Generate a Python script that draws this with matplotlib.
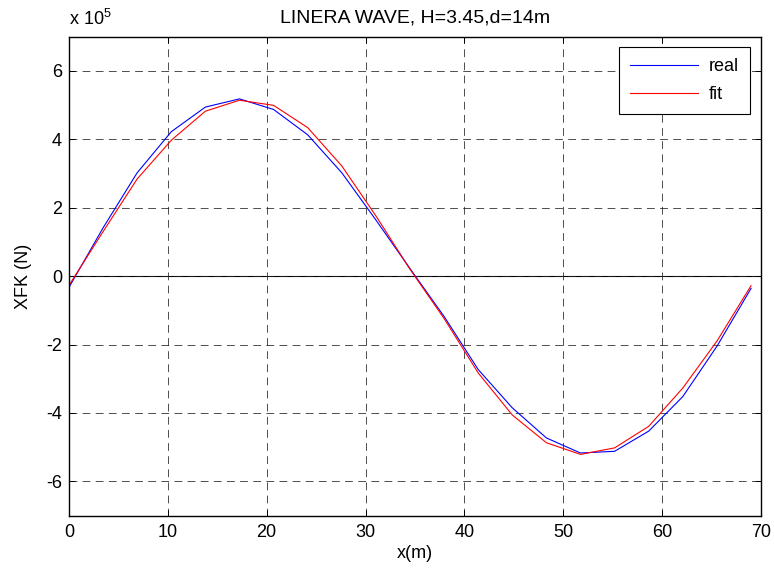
import matplotlib

matplotlib.use("Agg")
import matplotlib.pyplot as plt
import numpy as np

plt.rcParams["font.family"] = ["Liberation Sans", "DejaVu Sans"]
plt.rcParams["mathtext.fontset"] = "custom"
plt.rcParams["mathtext.rm"] = "Liberation Sans"
plt.rcParams["axes.unicode_minus"] = False

# sample positions along the wave (m)
x_m = [0.0, 3.45, 6.9, 10.35, 13.8, 17.25, 20.7, 24.15, 27.6, 31.05, 34.5,
       37.95, 41.4, 44.85, 48.3, 51.75, 55.2, 58.65, 62.1, 65.55, 69.0]

# horizontal Froude-Krylov force (N)
xfk_real = [-0.33e5, 1.41e5, 3.02e5, 4.22e5, 4.94e5, 5.18e5, 4.87e5, 4.13e5,
            3.02e5, 1.64e5, 0.22e5, -1.18e5, -2.73e5, -3.85e5, -4.73e5,
            -5.17e5, -5.12e5, -4.53e5, -3.52e5, -2.05e5, -0.36e5]
xfk_fit = [-0.27e5, 1.30e5, 2.84e5, 3.97e5, 4.82e5, 5.14e5, 4.99e5, 4.34e5,
           3.22e5, 1.76e5, 0.20e5, -1.24e5, -2.83e5, -4.06e5, -4.87e5,
           -5.21e5, -5.02e5, -4.39e5, -3.27e5, -1.90e5, -0.28e5]

scale = 1e5
x_ticks = [0, 10, 20, 30, 40, 50, 60, 70]
y_ticks = [-6, -4, -2, 0, 2, 4, 6]

fig = plt.figure(figsize=(7.74, 5.70), dpi=100)
ax = fig.add_axes([0.0891, 0.0954, 0.894, 0.8404])

ax.plot(x_m, np.array(xfk_real) / scale, color="#0000ff", linewidth=0.8, label="real")
ax.plot(x_m, np.array(xfk_fit) / scale, color="#ff0000", linewidth=0.8, label="fit")
ax.axhline(0, color="black", linewidth=0.8, zorder=1)

ax.set_xlim(0, 70)
ax.set_ylim(-7, 7)
ax.set_xticks(x_ticks)
ax.set_yticks(y_ticks)
ax.grid(True, color="#202020", linestyle=(0, (8, 5.5)), linewidth=0.7, alpha=0.8)
ax.tick_params(direction="in", length=4, width=0.7, top=True, right=True, labelsize=13)
ax.tick_params(axis="x", pad=6)
ax.tick_params(axis="y", pad=5)
for sp in ax.spines.values():
    sp.set_linewidth(1.0)

ax.set_title("LINERA WAVE, H=3.45,d=14m", fontsize=14, pad=10)
ax.set_xlabel("x(m)", fontsize=13, labelpad=3)
ax.set_ylabel("XFK (N)", fontsize=13, labelpad=10)
ax.text(0.0, 1.015, r"x 10$^{5}$", transform=ax.transAxes, fontsize=13,
        ha="left", va="bottom")

leg = ax.legend(loc="upper right", fontsize=13, fancybox=False, framealpha=1,
                edgecolor="black", handlelength=3.8, handletextpad=0.6,
                borderaxespad=0.6, borderpad=0.6, labelspacing=0.62)
leg.get_frame().set_linewidth(0.8)

fig.savefig("out.png", dpi=100)
